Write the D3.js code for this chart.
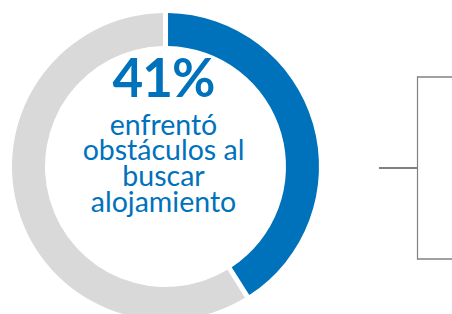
<!DOCTYPE html>
<html><head><meta charset="utf-8">
<script src="https://cdn.jsdelivr.net/npm/d3@7"></script>
<style>html,body{margin:0;padding:0;background:#fff;}svg{display:block;}</style>
</head><body>
<svg id="chart" width="452" height="314"></svg>
<script>
const categories = ["enfrentó obstáculos", "no enfrentó obstáculos"];
const values = [41, 59];
const colors = ["#0072BC", "#D9D9D9"];
const headline = "41%";
const labelLines = ["enfrentó", "obstáculos al", "buscar", "alojamiento"];

const svg = d3.select("#chart");
const cx = 165.5, cy = 166.5, rOuter = 153.5, rInner = 120.5;
const g = svg.append("g").attr("transform", `translate(${cx},${cy})`);

const pie = d3.pie().sort(null).value(d => d.v).padAngle(0.026);
const arc = d3.arc().innerRadius(rInner).outerRadius(rOuter);
const data = categories.map((c, i) => ({c, v: values[i], col: colors[i]}));
g.selectAll("path").data(pie(data)).join("path")
  .attr("d", arc).attr("fill", d => d.data.col);

g.append("text").attr("x", -2).attr("y", -70)
  .attr("text-anchor", "middle")
  .attr("font-family", "Lato").attr("font-weight", "bold")
  .attr("font-size", 53).attr("fill", "#0072BC")
  .attr("letter-spacing", -1)
  .text(headline);

const lbl = g.append("text")
  .attr("text-anchor", "middle")
  .attr("font-family", "Lato").attr("font-size", 28.5).attr("fill", "#0072BC");
lbl.selectAll("tspan").data(labelLines).join("tspan")
  .attr("x", -2).attr("y", (d, i) => -32 + i * 25.7)
  .text(d => d);

// bracket
const br = svg.append("g").attr("stroke", "#808080").attr("fill", "none");
br.append("line").attr("x1", 379).attr("x2", 418).attr("y1", 168).attr("y2", 168).attr("stroke-width", 1.8);
br.append("line").attr("x1", 417.5).attr("x2", 417.5).attr("y1", 76.5).attr("y2", 259.5).attr("stroke-width", 1.2);
br.append("line").attr("x1", 417).attr("x2", 452).attr("y1", 77).attr("y2", 77).attr("stroke-width", 1.6);
br.append("line").attr("x1", 417).attr("x2", 452).attr("y1", 259).attr("y2", 259).attr("stroke-width", 1.6);
</script>
</body></html>
